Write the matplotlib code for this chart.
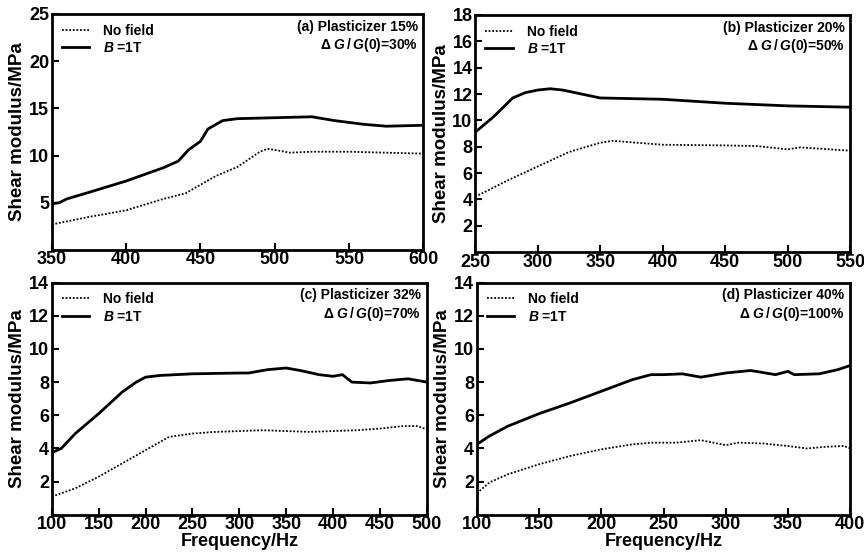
import matplotlib
matplotlib.use('Agg')
import matplotlib.pyplot as plt

plt.rcParams['font.family'] = ['Liberation Sans', 'DejaVu Sans']
plt.rcParams['font.weight'] = 'bold'
plt.rcParams['mathtext.fontset'] = 'custom'
plt.rcParams['mathtext.rm'] = 'Liberation Sans:bold'
plt.rcParams['mathtext.it'] = 'Liberation Sans:italic:bold'
plt.rcParams['mathtext.bf'] = 'Liberation Sans:bold'

# ---- Panel (a): Plasticizer 15% ----
a_field_x = [350, 355, 360, 375, 400, 425, 435, 442, 450, 455, 465, 475, 500, 525, 540, 560, 575, 600]
a_field_y = [4.9, 5.0, 5.4, 6.1, 7.3, 8.7, 9.4, 10.6, 11.5, 12.8, 13.7, 13.9, 14.0, 14.1, 13.7, 13.3, 13.1, 13.2]
a_nofield_x = [350, 375, 400, 425, 440, 450, 460, 475, 490, 495, 500, 510, 525, 550, 575, 600]
a_nofield_y = [2.7, 3.5, 4.2, 5.4, 6.0, 6.9, 7.8, 8.8, 10.4, 10.7, 10.6, 10.3, 10.4, 10.4, 10.3, 10.2]

# ---- Panel (b): Plasticizer 20% ----
b_field_x = [250, 265, 280, 290, 300, 310, 320, 340, 350, 400, 450, 500, 550]
b_field_y = [9.1, 10.3, 11.7, 12.1, 12.3, 12.4, 12.3, 11.9, 11.7, 11.6, 11.3, 11.1, 11.0]
b_nofield_x = [250, 275, 300, 325, 350, 360, 400, 450, 475, 500, 510, 550]
b_nofield_y = [4.2, 5.4, 6.5, 7.6, 8.3, 8.45, 8.15, 8.1, 8.05, 7.8, 7.95, 7.7]

# ---- Panel (c): Plasticizer 32% ----
c_field_x = [100, 110, 125, 150, 175, 190, 200, 215, 250, 300, 310, 330, 350, 365, 385, 400, 410, 420, 440, 460, 480, 500]
c_field_y = [3.75, 4.0, 4.9, 6.1, 7.4, 8.0, 8.3, 8.4, 8.5, 8.55, 8.55, 8.75, 8.85, 8.7, 8.45, 8.35, 8.45, 8.0, 7.95, 8.1, 8.2, 8.0]
c_nofield_x = [100, 125, 150, 175, 200, 225, 250, 275, 300, 325, 350, 375, 400, 425, 450, 475, 490, 500]
c_nofield_y = [1.1, 1.6, 2.3, 3.1, 3.9, 4.7, 4.9, 5.0, 5.05, 5.1, 5.05, 5.0, 5.05, 5.1, 5.2, 5.35, 5.35, 5.15]

# ---- Panel (d): Plasticizer 40% ----
d_field_x = [100, 110, 125, 150, 175, 200, 225, 240, 250, 265, 280, 300, 320, 340, 350, 355, 375, 390, 400]
d_field_y = [4.25, 4.75, 5.35, 6.1, 6.75, 7.45, 8.15, 8.45, 8.45, 8.5, 8.3, 8.55, 8.7, 8.45, 8.65, 8.45, 8.5, 8.75, 9.0]
d_nofield_x = [100, 110, 125, 150, 175, 200, 225, 240, 260, 280, 300, 310, 330, 350, 365, 380, 395, 400]
d_nofield_y = [1.3, 1.95, 2.45, 3.05, 3.55, 3.95, 4.25, 4.35, 4.35, 4.5, 4.2, 4.35, 4.3, 4.15, 4.0, 4.1, 4.15, 4.0]

panel_titles = ["(a) Plasticizer 15%", "(b) Plasticizer 20%", "(c) Plasticizer 32%", "(d) Plasticizer 40%"]
panel_ratios = ["30%", "50%", "70%", "100%"]
xlims = [(350, 600), (250, 550), (100, 500), (100, 400)]
ylims = [(0, 25), (0, 18), (0, 14), (0, 14)]
xticks = [[350, 400, 450, 500, 550, 600], [250, 300, 350, 400, 450, 500, 550],
          [100, 150, 200, 250, 300, 350, 400, 450, 500], [100, 150, 200, 250, 300, 350, 400]]
yticks = [[5, 10, 15, 20, 25], [2, 4, 6, 8, 10, 12, 14, 16, 18],
          [2, 4, 6, 8, 10, 12, 14], [2, 4, 6, 8, 10, 12, 14]]
ylabel = "Shear modulus/MPa"
xlabel = "Frequency/Hz"
legend_labels = ["No field", "$B$ =1T"]

series = [
    (a_nofield_x, a_nofield_y, a_field_x, a_field_y),
    (b_nofield_x, b_nofield_y, b_field_x, b_field_y),
    (c_nofield_x, c_nofield_y, c_field_x, c_field_y),
    (d_nofield_x, d_nofield_y, d_field_x, d_field_y),
]

positions = [
    [0.060, 0.548, 0.430, 0.427],
    [0.550, 0.544, 0.434, 0.429],
    [0.060, 0.069, 0.434, 0.420],
    [0.552, 0.069, 0.432, 0.420],
]

fig = plt.figure(figsize=(8.64, 5.53), dpi=100)
for i in range(4):
    ax = fig.add_axes(positions[i])
    nx, ny, fx, fy = series[i]
    ax.plot(nx, ny, color='black', linestyle=(0, (1, 1)), linewidth=1.3, label=legend_labels[0])
    ax.plot(fx, fy, color='black', linestyle='-', linewidth=2.0, label=legend_labels[1])
    ax.set_xlim(*xlims[i])
    ax.set_ylim(*ylims[i])
    ax.set_xticks(xticks[i])
    ax.set_yticks(yticks[i])
    ax.tick_params(axis='y', direction='in', length=5, width=1.5, labelsize=13, pad=2)
    ax.tick_params(axis='x', direction='in', length=5, width=1.5, labelsize=13, pad=1)
    ax.tick_params(top=False, right=False)
    for lab in ax.get_xticklabels() + ax.get_yticklabels():
        lab.set_fontweight('bold')
    for sp in ax.spines.values():
        sp.set_linewidth(2.0)
    ax.set_ylabel(ylabel, fontsize=13.5, fontweight='bold', labelpad=2)
    if i >= 2:
        ax.set_xlabel(xlabel, fontsize=13, fontweight='bold', labelpad=0)
    ax.legend(loc='upper left', frameon=False, handlelength=2.0,
              handletextpad=1.0, labelspacing=0.25, borderaxespad=0.3,
              prop={'weight': 'bold', 'size': 10})
    ax.text(0.985, 0.975, panel_titles[i], transform=ax.transAxes, ha='right', va='top',
            fontsize=10, fontweight='bold')
    ax.text(0.985, 0.905, r"Δ $G\,/\,G$(0)=" + panel_ratios[i], transform=ax.transAxes,
            ha='right', va='top', fontsize=10, fontweight='bold')

fig.savefig('out.png', dpi=100)
